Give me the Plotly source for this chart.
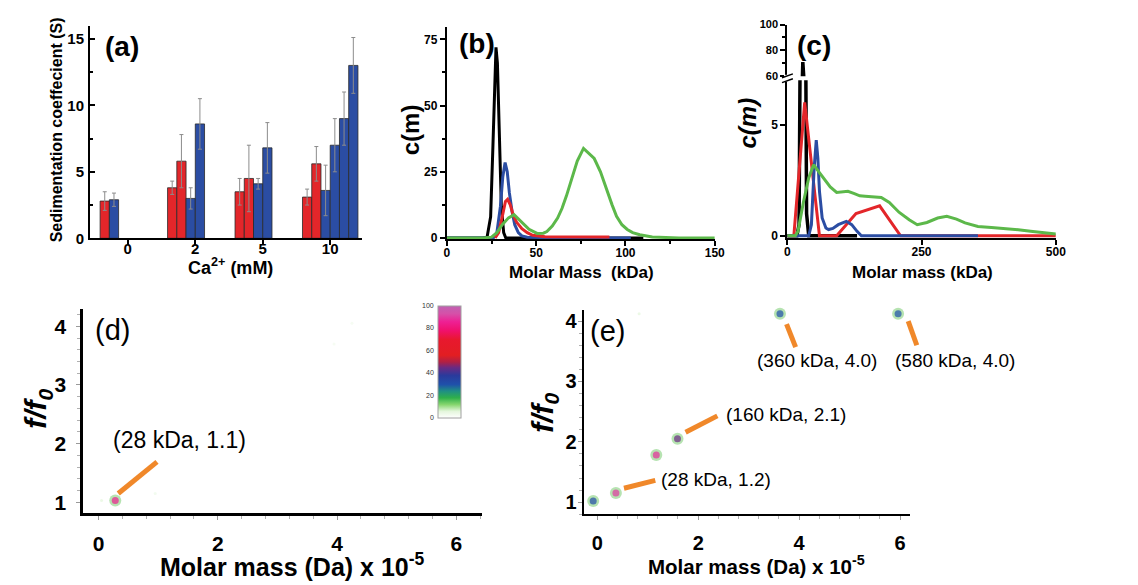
import plotly.graph_objects as go

W, H = 1138, 585
FONT = "Liberation Sans"


def px(x):
    return x / W


def py(y):
    return 1 - y / H


# ---------------- (a) sedimentation coefficients ----------------
ca_labels = ["0", "2", "5", "10"]
a_red_vals = [[2.8], [3.8, 5.8], [3.5, 4.5], [3.1, 5.6]]
a_red_errs = [[0.7], [0.5, 2.0], [1.0, 2.5], [0.6, 1.3]]
a_blue_vals = [[2.9], [3.0, 8.6], [4.1, 6.8], [3.6, 7.0, 9.0, 13.0]]
a_blue_errs = [[0.5], [0.8, 1.9], [0.4, 1.9], [1.9, 2.0, 2.0, 2.1]]

# ---------------- (b) c(m) distributions ----------------
b_black_x = [0, 20, 22.5, 24.5, 25.8, 26.8, 27.5, 28.3, 29.3, 30.5, 31.8, 33, 60, 110]
b_black_y = [0, 0, 0.3, 8, 35, 62, 72, 66, 40, 12, 2, 0, 0, 0]
b_blue_x = [0, 26, 28, 30, 31.3, 32.6, 33.8, 35, 36.5, 38, 40, 42, 45, 60, 103]
b_blue_y = [0, 0, 2, 12, 23, 28.5, 25, 17, 10, 5, 2, 0.8, 0.3, 0.1, 0]
b_red_x = [27, 29, 31, 32.8, 34, 35.5, 37, 39, 42, 45, 48, 55, 91]
b_red_y = [0, 2, 8, 13.8, 14.6, 12.5, 9, 6, 3.5, 2, 1, 0.5, 0.4]
b_green_x = [0, 10, 20, 25, 28, 31, 34.5, 37.6, 41, 46, 50.5, 54, 56, 59, 62, 64.5, 67, 70, 73,
             76.5, 79.5, 82.5, 86, 89.5, 92.5, 95, 98, 101, 104, 108, 115, 130, 150]
b_green_y = [0, 0, 0, 0.3, 2, 5, 7.6, 8.8, 6.5, 3.3, 1.7, 1.8, 2.4, 4.5, 7.5, 11.2, 16, 23, 29,
             33.8, 32, 30, 25, 18, 12.5, 8.2, 5, 3.2, 2, 1.2, 0.4, 0, 0]

# ---------------- (c) c(m) distributions ----------------
c_black_x = [0, 18, 22, 25, 27, 29, 31, 33, 36, 40, 130]
c_black_y = [0, 0, 0.5, 12, 45, 71, 50, 15, 1, 0, 0]
c_red_x = [0, 12.3, 32.5, 60, 92, 128, 172, 211, 500]
c_red_y = [0, 0, 6.0, 0, 0, 1.0, 1.35, 0, 0]
c_blue_x = [0, 40, 45, 50, 54, 57, 60, 65, 72, 77, 85, 95, 110, 120, 130, 138, 355]
c_blue_y = [0, 0, 0.5, 3.0, 4.3, 3.5, 2.0, 0.8, 0.35, 0.28, 0.33, 0.5, 0.65, 0.5, 0.2, 0, 0]
c_green_x = [0, 15, 20, 30, 40, 49, 55, 61, 70, 80, 92, 105, 113, 125, 135, 145, 155, 165, 175,
             190, 208, 227, 242, 260, 280, 297, 315, 331, 355, 380, 404, 430, 453, 480, 500]
c_green_y = [0, 0, 0.2, 1.5, 2.6, 3.2, 3.0, 2.8, 2.5, 2.2, 1.95, 1.98, 2.0, 1.9, 1.8, 1.78, 1.75,
             1.75, 1.72, 1.5, 1.06, 0.72, 0.5, 0.6, 0.8, 0.88, 0.75, 0.58, 0.42, 0.37, 0.33, 0.27,
             0.2, 0.12, 0.08]

# ---------------- (d), (e) c(s, f/f0) peaks ----------------
d_mass = [0.05, 0.28, 0.95, 3.95, 4.25]
d_ff0 = [1.03, 1.03, 1.15, 3.7, 4.05]
d_int = [6, 85, 4, 3, 3]
d_callouts = [((0.33, 1.15), (0.98, 1.69), "(28 kDa, 1.1)", (1.35, 2.07))]

e_mass = [-0.08, 0.37, 0.83, 1.17, 1.59, 3.62, 5.96]
e_ff0 = [1.02, 1.15, 4.12, 1.78, 2.05, 4.12, 4.12]
e_int = [32, 90, 6, 88, 45, 30, 30]
e_callouts = [((0.53, 1.23), (1.15, 1.36), "(28 kDa, 1.2)", (2.36, 1.38)),
              ((1.75, 2.16), (2.38, 2.43), "(160 kDa, 2.1)", (3.73, 2.46)),
              ((3.75, 3.95), (3.93, 3.57), "(360 kDa, 4.0)", (4.36, 3.35)),
              ((6.16, 4.00), (6.33, 3.60), "(580 kDa, 4.0)", (7.08, 3.34))]

cbar_ticks = [0, 20, 40, 60, 80, 100]

RED = "#e3262a"
BLUE = "#2b4da3"
GREEN = "#5cb84a"
ORANGE = "#f0882a"

cscale = [[0.0, "#ffffff"], [0.06, "#e4f6dc"], [0.12, "#86d66e"], [0.18, "#2fb04a"],
          [0.24, "#1f8f84"], [0.30, "#1f50aa"], [0.38, "#2a3a9c"], [0.45, "#6a2a82"],
          [0.50, "#b02044"], [0.56, "#e21e22"], [0.70, "#e8182e"], [0.78, "#f0106c"],
          [0.86, "#ee2094"], [0.93, "#d650a8"], [1.0, "#c062b2"]]

fig = go.Figure()

# ---- (a) bars ----
W_BAR, START = 0.137, -0.41
rx, ry, re_, bx, by, be = [], [], [], [], [], []
for i in range(len(ca_labels)):
    nr = len(a_red_vals[i])
    for k, (v, e) in enumerate(zip(a_red_vals[i], a_red_errs[i])):
        rx.append(i + START + W_BAR * (k + 0.5)); ry.append(v); re_.append(e)
    for k, (v, e) in enumerate(zip(a_blue_vals[i], a_blue_errs[i])):
        bx.append(i + START + W_BAR * (nr + k + 0.5)); by.append(v); be.append(e)
for xs, ys, es, col in [(rx, ry, re_, RED), (bx, by, be, BLUE)]:
    fig.add_trace(go.Bar(x=xs, y=ys, width=W_BAR, marker=dict(color=col, line=dict(color="#2a2a2a", width=0.8)),
                         error_y=dict(type="data", array=es, color="#8c8c8c", thickness=1, width=2),
                         xaxis="x", yaxis="y", showlegend=False))

# ---- (b) lines ----
for xs, ys, col in [(b_black_x, b_black_y, "black"), (b_blue_x, b_blue_y, BLUE),
                    (b_red_x, b_red_y, RED), (b_green_x, b_green_y, GREEN)]:
    fig.add_trace(go.Scatter(x=xs, y=ys, mode="lines", line=dict(color=col, width=3),
                             xaxis="x2", yaxis="y2", showlegend=False))

# ---- (c) lines, on both halves of the broken axis ----
for ya in ["y3", "y4"]:
    for xs, ys, col in [(c_black_x, c_black_y, "black"), (c_red_x, c_red_y, RED),
                        (c_blue_x, c_blue_y, BLUE), (c_green_x, c_green_y, GREEN)]:
        fig.add_trace(go.Scatter(x=xs, y=ys, mode="lines",
                                 line=dict(color=col, width=3.5 if col == "black" else 3),
                                 xaxis="x3", yaxis=ya, showlegend=False))


# ---- (d), (e) peaks ----
def add_peaks(ms, fs, ints, xa, ya, show_cb):
    strong = [i for i, v in enumerate(ints) if v > 10]
    fig.add_trace(go.Scatter(x=[ms[i] for i in strong], y=[fs[i] for i in strong], mode="markers",
                             marker=dict(size=12, color="rgba(110,200,100,0.5)", line=dict(width=0)),
                             xaxis=xa, yaxis=ya, showlegend=False, cliponaxis=False))
    sizes = [7 if v > 10 else 3 for v in ints]
    mk = dict(size=sizes, color=ints, colorscale=cscale, cmin=0, cmax=100, line=dict(width=0))
    if show_cb:
        mk.update(showscale=True, colorbar=dict(
            x=px(440), xanchor="left", xref="paper", xpad=0, ypad=0,
            y=py(421.7), yanchor="bottom", yref="paper", len=115 / H, lenmode="fraction",
            thickness=23, thicknessmode="pixels", showticklabels=False, ticks="",
            outlinewidth=1, outlinecolor="#a0a0a0"))
    fig.add_trace(go.Scatter(x=ms, y=fs, mode="markers", marker=mk, xaxis=xa, yaxis=ya,
                             showlegend=False, cliponaxis=False))


add_peaks(d_mass, d_ff0, d_int, "x5", "y5", True)
add_peaks(e_mass, e_ff0, e_int, "x6", "y6", False)


# ---------------- layout ----------------
def tfont(size):
    return dict(family=FONT, size=size, color="black", weight="bold")


base = dict(showline=True, linecolor="black", linewidth=2, ticks="outside", tickcolor="black",
            tickwidth=1.5, ticklen=5, showgrid=False, zeroline=False)

x1r, y1r = [-0.56, 3.47], [0, 16]
x2r, y2r = [0, 150], [-0.5, 79.6]
x3r, y3r, y4r = [0, 500], [-0.1, 7], [60, 100]
x5r, y5r = [-0.26, 6.44], [0.82, 4.29]
x6r, y6r = [-0.27, 6.2], [0.8, 4.18]

grey_ax = dict(showline=True, linecolor="black", linewidth=2.5, ticks="outside", tickcolor="#9a9a9a",
               tickwidth=1, ticklen=4, showgrid=False, zeroline=False, ticklabelstandoff=6,
               minor=dict(ticks="outside", ticklen=3, tickcolor="#b0b0b0", tickwidth=1))

fig.update_layout(
    width=W, height=H, margin=dict(l=0, r=0, t=0, b=0), paper_bgcolor="white", plot_bgcolor="white",
    barmode="overlay", font=dict(family=FONT, color="black"),
    xaxis=dict(base, domain=[px(88), px(363)], anchor="y", range=x1r, tickvals=[0, 1, 2, 3],
               ticktext=ca_labels, tickfont=tfont(15), ticklabelstandoff=-9),
    yaxis=dict(base, domain=[py(238), py(20)], anchor="x", range=y1r, dtick=5, tickfont=tfont(15),
               ticks="inside", ticklen=5, ticklabelstandoff=1,
               minor=dict(dtick=2.5, ticks="inside", ticklen=3, tickcolor="black")),
    xaxis2=dict(base, domain=[px(449), px(720)], anchor="y2", range=x2r, dtick=50, tickfont=tfont(12),
                minor=dict(dtick=25, ticks="outside", ticklen=3, tickcolor="black"), ticklabelstandoff=-4),
    yaxis2=dict(base, domain=[py(239), py(21.7)], anchor="x2", range=y2r, tickvals=[0, 25, 50, 75],
                tickfont=tfont(12), minor=dict(tickvals=[12.5, 37.5, 62.5], ticks="outside", ticklen=3,
                                               tickcolor="black")),
    xaxis3=dict(base, domain=[px(793.3), px(1065)], anchor="y3", range=x3r, tickvals=[0, 250, 500],
                tickfont=tfont(12), ticklabelstandoff=-3),
    yaxis3=dict(base, domain=[py(237.7), py(76)], anchor="x3", range=y3r, tickvals=[0, 5],
                tickfont=tfont(12)),
    yaxis4=dict(base, domain=[py(72), py(19)], anchor="x3", range=y4r, tickvals=[60, 80, 100],
                tickfont=tfont(11), minor=dict(tickvals=[70, 90], ticks="outside", ticklen=3,
                                               tickcolor="black")),
    xaxis5=dict(grey_ax, domain=[px(81), px(485)], anchor="y5", range=x5r, dtick=2,
                tickfont=tfont(21), minor=dict(grey_ax["minor"], dtick=0.4)),
    yaxis5=dict(grey_ax, domain=[py(519.3), py(310.7)], anchor="x5", range=y5r, dtick=1,
                tickfont=tfont(21), minor=dict(grey_ax["minor"], dtick=0.2)),
    xaxis6=dict(grey_ax, domain=[px(587.3), px(917.7)], anchor="y6", range=x6r, dtick=2,
                tickfont=tfont(20), minor=dict(grey_ax["minor"], dtick=0.4), linewidth=2),
    yaxis6=dict(grey_ax, domain=[py(520.7), py(311.7)], anchor="x6", range=y6r, dtick=1,
                tickfont=tfont(20), minor=dict(grey_ax["minor"], dtick=0.2), linewidth=2,
                ticklabelstandoff=-3),
)

anns = []


def add_text(text, x, y, size, weight="bold", angle=0, xref="paper", yref="paper",
             xanchor="center", color="black"):
    anns.append(dict(text=text, x=x, y=y, xref=xref, yref=yref, showarrow=False, textangle=angle,
                     xanchor=xanchor, yanchor="middle",
                     font=dict(family=FONT, size=size, color=color, weight=weight)))


# panel letters
add_text("(a)", px(120), py(41), 28)
add_text("(b)", px(479), py(38), 28)
add_text("(c)", px(820), py(40), 28)
add_text("(d)", px(111), py(332), 29, weight="normal")
add_text("(e)", px(611), py(333), 29, weight="normal")

# axis titles
add_text("Sedimentation coeffecient (S)", px(55), py(127), 16, angle=-90)
add_text("Ca<sup>2+</sup> (mM)", px(230), py(267), 18)
add_text("c(m)", px(413), py(127), 24, angle=-90)
add_text("Molar Mass&nbsp; (kDa)", px(585), py(273), 17)
add_text("<i>c(m)</i>", px(753), py(120), 24, angle=-90)
add_text("Molar mass (kDa)", px(930), py(273), 17)
add_text("<i>f/f<sub>0</sub></i>", px(35), py(413), 30, angle=-90)
add_text("Molar mass (Da) x 10<sup>-5</sup>", px(293), py(573), 25)
add_text("<i>f/f<sub>0</sub></i>", px(547), py(417), 30, angle=-90)
add_text("Molar mass (Da) x 10<sup>-5</sup>", px(762), py(573), 20.5)

# colorbar tick labels (left side)
cb_bottom, cb_len = py(421.7), 115 / H
for t in cbar_ticks:
    add_text(str(t), px(438), cb_bottom + cb_len * t / 100, 7, weight="normal", xanchor="right",
             color="#333333")

shapes = []


def dom(v, r):
    return (v - r[0]) / (r[1] - r[0])


for callouts, xa, xr, yr, fsize in [(d_callouts, "x5", x5r, y5r, 23), (e_callouts, "x6", x6r, y6r, 19)]:
    ya = "y" + xa[1:]
    for (p0, p1, label, lp) in callouts:
        shapes.append(dict(type="line", xref=xa + " domain", yref=ya + " domain",
                           x0=dom(p0[0], xr), y0=dom(p0[1], yr), x1=dom(p1[0], xr), y1=dom(p1[1], yr),
                           line=dict(color=ORANGE, width=5)))
        add_text(label, dom(lp[0], xr), dom(lp[1], yr), fsize, weight="normal",
                 xref=xa + " domain", yref=ya + " domain")

# axis break marks on (c)
shapes.append(dict(type="rect", xref="paper", yref="paper", x0=px(790), x1=px(797), y0=py(77.5),
                   y1=py(70.5), fillcolor="white", line=dict(width=0), layer="above"))
for yb in [71.5, 76.5]:
    shapes.append(dict(type="line", xref="paper", yref="paper", x0=px(788), y0=py(yb + 2),
                       x1=px(799), y1=py(yb - 2), line=dict(color="black", width=1.5)))

fig.update_layout(annotations=anns, shapes=shapes)
fig.write_html("out.html")
